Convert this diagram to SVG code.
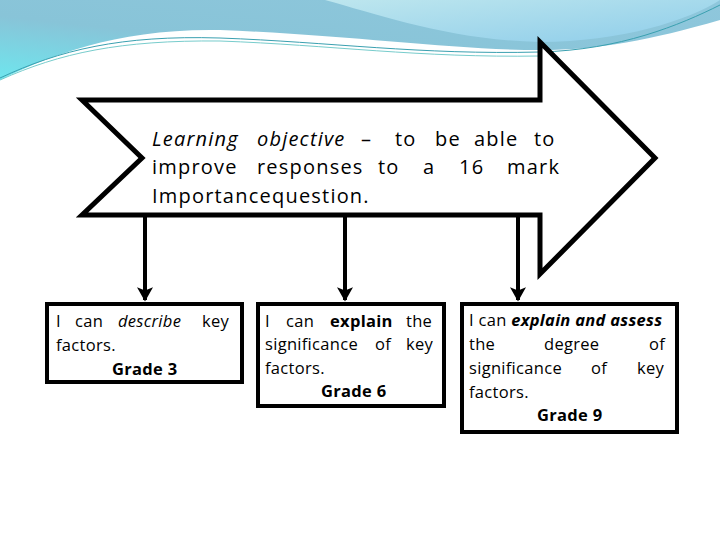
<svg xmlns="http://www.w3.org/2000/svg" width="720" height="540" viewBox="0 0 720 540">
<defs>
<linearGradient id="bg" x1="0" y1="1" x2="1" y2="0"><stop offset="0" stop-color="#6ee6ee"/><stop offset="0.4" stop-color="#88c4d8"/><stop offset="1" stop-color="#8fc7dc"/></linearGradient>
<linearGradient id="bg2" x1="0" y1="0" x2="1" y2="1"><stop offset="0" stop-color="#bde6ee"/><stop offset="1" stop-color="#8ecdea"/></linearGradient>
<marker id="ah" viewBox="0 0 10 10" refX="8" refY="5" markerWidth="4" markerHeight="4" orient="auto" markerUnits="strokeWidth"><path d="M0,0 L9,5 L0,10 L2,5 Z" fill="#000"/></marker>
<style>
.t{font-family:"Open Sans","Liberation Sans",sans-serif;font-size:16.5px;fill:#000;letter-spacing:0.3px}
.o{font-size:20px;letter-spacing:1.2px}
.b{fill:#fff;stroke:#000;stroke-width:4}
.c{stroke:#000;stroke-width:4;fill:none}
</style>
</defs>
<g id="background">
<path d="M0,0 H720 V20 C650,40 600,50 540,50 C450,50 350,35 220,30 C120,28 50,55 0,80 Z" fill="url(#bg)"/>
<path d="M325,0 H720 V0 C690,20 620,42 540,42 C450,40 380,15 325,0 Z" fill="url(#bg2)"/>
<path d="M0,78 C60,50 120,35 220,38 C330,42 420,55 540,52 C620,50 680,25 720,5" fill="none" stroke="#3aa0b0" stroke-width="1"/>
<path d="M0,80 C60,53 120,40 220,41 C330,45 420,58 540,56" fill="none" stroke="#7cc" stroke-width="1"/>
</g>
<g id="objective">
<path d="M540,42 L655,158 L540,274 L540,215 L82,215 L142,158 L82,100 L540,100 Z" fill="#fff" stroke="#000" stroke-width="5" stroke-linejoin="miter"/>
<text class="t o">
<tspan x="152" y="146" font-style="italic">Learning</tspan><tspan x="257" y="146" font-style="italic">objective</tspan><tspan x="361" y="146">–</tspan><tspan x="395" y="146">to</tspan><tspan x="435" y="146">be</tspan><tspan x="474" y="146">able</tspan><tspan x="534" y="146">to</tspan>
<tspan x="152" y="174">improve</tspan><tspan x="257" y="174">responses</tspan><tspan x="378" y="174">to</tspan><tspan x="423" y="174">a</tspan><tspan x="459" y="174">16</tspan><tspan x="507" y="174">mark</tspan>
<tspan x="152" y="203">Importance</tspan><tspan x="272" y="203">question.</tspan>
</text>
</g>
<g id="connectors">
<line class="c" x1="145" y1="217" x2="145" y2="300" marker-end="url(#ah)"/>
<line class="c" x1="345" y1="217" x2="345" y2="300" marker-end="url(#ah)"/>
<line class="c" x1="518" y1="217" x2="518" y2="300" marker-end="url(#ah)"/>
</g>
<g id="box1">
<rect class="b" x="47" y="304" width="195" height="78"/>
<text class="t"><tspan x="56" y="327">I</tspan><tspan x="75" y="327">can</tspan><tspan x="118" y="327" font-style="italic">describe</tspan><tspan x="202" y="327">key</tspan><tspan x="56" y="351">factors.</tspan><tspan x="112" y="375" font-weight="bold">Grade 3</tspan></text>
</g>
<g id="box2">
<rect class="b" x="258" y="304" width="186" height="102"/>
<text class="t"><tspan x="265" y="327">I</tspan><tspan x="286" y="327">can</tspan><tspan x="330" y="327" font-weight="bold">explain</tspan><tspan x="406" y="327">the</tspan><tspan x="265" y="350">significance</tspan><tspan x="375" y="350">of</tspan><tspan x="406" y="350">key</tspan><tspan x="265" y="374">factors.</tspan><tspan x="321" y="397" font-weight="bold">Grade 6</tspan></text>
</g>
<g id="box3">
<rect class="b" x="462" y="304" width="215" height="128"/>
<text class="t"><tspan x="469" y="326">I can <tspan font-weight="bold" font-style="italic">explain and assess</tspan></tspan><tspan x="469" y="350">the</tspan><tspan x="544" y="350">degree</tspan><tspan x="649" y="350">of</tspan><tspan x="469" y="374">significance</tspan><tspan x="591" y="374">of</tspan><tspan x="637" y="374">key</tspan><tspan x="469" y="398">factors.</tspan><tspan x="537" y="421" font-weight="bold">Grade 9</tspan></text>
</g>
</svg>
